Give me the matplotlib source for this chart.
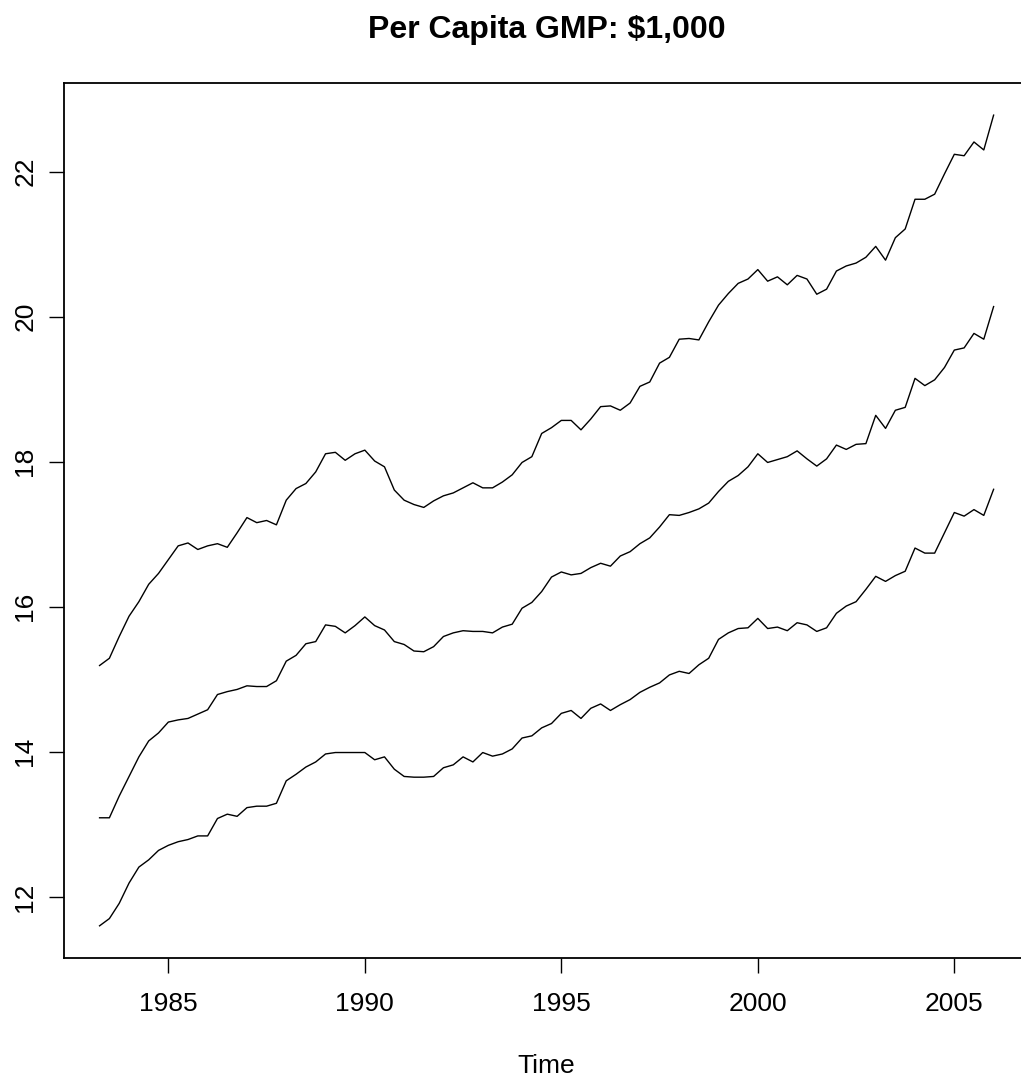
import numpy as np
import matplotlib

matplotlib.use("Agg")
import matplotlib.pyplot as plt


# quarterly series, first observation 1983 Q2
START_YEAR = 1983.25
FREQUENCY = 4

upper = [
    15.19, 15.29, 15.59, 15.87, 16.07, 16.31, 16.46, 16.65, 16.84, 16.88,
    16.79, 16.84, 16.87, 16.82, 17.02, 17.23, 17.16, 17.19, 17.13, 17.47,
    17.63, 17.70, 17.86, 18.11, 18.13, 18.02, 18.11, 18.16, 18.01, 17.93,
    17.61, 17.47, 17.41, 17.37, 17.46, 17.53, 17.57, 17.64, 17.71, 17.64,
    17.64, 17.72, 17.82, 17.99, 18.07, 18.39, 18.47, 18.57, 18.57, 18.44,
    18.59, 18.76, 18.77, 18.71, 18.81, 19.04, 19.10, 19.36, 19.44, 19.69,
    19.70, 19.68, 19.93, 20.16, 20.32, 20.46, 20.52, 20.65, 20.49, 20.55,
    20.44, 20.57, 20.52, 20.31, 20.38, 20.63, 20.70, 20.74, 20.82, 20.97,
    20.78, 21.09, 21.21, 21.62, 21.62, 21.69, 21.97, 22.24, 22.22, 22.41,
    22.30, 22.78,
]

middle = [
    13.09, 13.09, 13.39, 13.66, 13.93, 14.15, 14.26, 14.41, 14.44, 14.46,
    14.52, 14.58, 14.79, 14.83, 14.86, 14.91, 14.90, 14.90, 14.98, 15.25,
    15.33, 15.49, 15.52, 15.75, 15.73, 15.64, 15.74, 15.86, 15.74, 15.68,
    15.52, 15.48, 15.39, 15.38, 15.45, 15.59, 15.64, 15.67, 15.66, 15.66,
    15.64, 15.72, 15.76, 15.98, 16.06, 16.21, 16.41, 16.48, 16.44, 16.46,
    16.54, 16.60, 16.56, 16.70, 16.76, 16.87, 16.95, 17.10, 17.27, 17.26,
    17.30, 17.35, 17.43, 17.59, 17.73, 17.81, 17.93, 18.11, 17.99, 18.03,
    18.07, 18.15, 18.04, 17.94, 18.04, 18.23, 18.17, 18.24, 18.25, 18.64,
    18.46, 18.71, 18.75, 19.15, 19.05, 19.13, 19.30, 19.54, 19.57, 19.77,
    19.69, 20.14,
]

lower = [
    11.60, 11.70, 11.91, 12.19, 12.41, 12.51, 12.64, 12.71, 12.76, 12.79,
    12.84, 12.84, 13.08, 13.14, 13.11, 13.23, 13.25, 13.25, 13.29, 13.60,
    13.69, 13.79, 13.86, 13.97, 13.99, 13.99, 13.99, 13.99, 13.89, 13.93,
    13.76, 13.66, 13.65, 13.65, 13.66, 13.78, 13.82, 13.93, 13.86, 13.99,
    13.94, 13.97, 14.04, 14.19, 14.22, 14.33, 14.39, 14.53, 14.57, 14.46,
    14.60, 14.66, 14.57, 14.65, 14.72, 14.82, 14.89, 14.95, 15.06, 15.11,
    15.08, 15.20, 15.29, 15.55, 15.64, 15.70, 15.71, 15.84, 15.70, 15.72,
    15.67, 15.78, 15.75, 15.66, 15.71, 15.91, 16.01, 16.07, 16.24, 16.42,
    16.35, 16.43, 16.49, 16.81, 16.74, 16.74, 17.02, 17.30, 17.25, 17.34,
    17.26, 17.62,
]

X_TICKS = [1985, 1990, 1995, 2000, 2005]
Y_TICKS = [12, 14, 16, 18, 20, 22]
TITLE = "Per Capita GMP: $1,000"
X_LABEL = "Time"


def r_range(values, frac=0.04):
    # base R style axis extension (xaxs = "r")
    lo, hi = float(np.min(values)), float(np.max(values))
    pad = (hi - lo) * frac
    return lo - pad, hi + pad


def main():
    plt.rcParams["font.family"] = ["Liberation Sans", "DejaVu Sans"]

    series = [np.asarray(upper), np.asarray(middle), np.asarray(lower)]
    time = START_YEAR + np.arange(len(upper)) / FREQUENCY

    fig = plt.figure(figsize=(10.21, 10.84), dpi=100)
    ax = fig.add_axes([0.0625, 0.116, 0.9457, 0.8077])

    for values in series:
        ax.plot(time, values, color="black", linewidth=1.0)

    ax.set_xlim(*r_range(time))
    ax.set_ylim(*r_range(np.concatenate(series)))

    ax.set_xticks(X_TICKS)
    ax.set_yticks(Y_TICKS)
    ax.set_xticklabels([str(v) for v in X_TICKS])
    ax.set_yticklabels([str(v) for v in Y_TICKS], rotation=90, va="center")
    ax.tick_params(direction="out", length=11, width=1.0, labelsize=19, colors="black")
    ax.tick_params(axis="x", pad=13)
    ax.tick_params(axis="y", pad=8)
    for spine in ax.spines.values():
        spine.set_linewidth(1.3)
        spine.set_color("black")

    center_x = 0.0625 + 0.9457 / 2
    fig.text(center_x, 1 - 38.3 / 1084, TITLE, ha="center", va="baseline",
             fontsize=23, fontweight="bold")
    fig.text(center_x, 1 - 1066 / 1084, X_LABEL, ha="center", va="center", fontsize=19)

    fig.savefig("out.png", dpi=100)
    plt.close(fig)


if __name__ == "__main__":
    main()
